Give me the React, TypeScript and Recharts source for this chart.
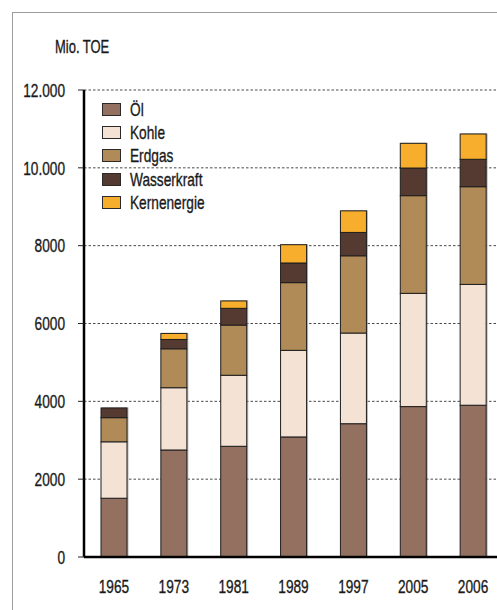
import React from "react";
import {
  BarChart,
  Bar,
  XAxis,
  YAxis,
  CartesianGrid,
  Legend,
} from "recharts";

// Liberation Sans squeezed horizontally to get a condensed face
const FONT = "'Liberation Sans', Arial, sans-serif";
const SQUEEZE = 0.72;
const FONT_SIZE = 19;

// Weltenergieverbrauch in Mio. TOE
const years = ["1965", "1973", "1981", "1989", "1997", "2005", "2006"];
const oel = [1510, 2750, 2845, 3085, 3425, 3865, 3900];
const kohle = [1450, 1600, 1825, 2225, 2330, 2910, 3105];
const erdgas = [620, 1000, 1290, 1740, 1985, 2510, 2510];
const wasserkraft = [250, 240, 430, 505, 600, 710, 705];
const kernenergie = [0, 155, 190, 470, 555, 635, 650];

const yTicks = [0, 2000, 4000, 6000, 8000, 10000, 12000];
const yTickLabels = ["0", "2000", "4000", "6000", "8000", "10.000", "12.000"];

const series = [
  { key: "oel", name: "Öl", values: oel, color: "#947060" },
  { key: "kohle", name: "Kohle", values: kohle, color: "#f4e2d5" },
  { key: "erdgas", name: "Erdgas", values: erdgas, color: "#b18b57" },
  { key: "wasserkraft", name: "Wasserkraft", values: wasserkraft, color: "#553a31" },
  { key: "kernenergie", name: "Kernenergie", values: kernenergie, color: "#f7ae2c" },
];

const data = years.map((year, i) => {
  const row: Record<string, string | number> = { year };
  series.forEach((s) => {
    row[s.key] = s.values[i];
  });
  return row;
});

// segment with a soft grey shadow on its right edge
const ShadowRect = (props: any) => {
  const { x, y, width, height, fill } = props;
  if (!height || height <= 0) return null;
  return (
    <g>
      <rect x={x + 1.5} y={y - 0.5} width={width} height={height} fill="#7a7a7a" opacity={0.55} />
      <rect x={x} y={y} width={width} height={height} fill={fill} stroke="#1e1e1e" strokeWidth={1} />
    </g>
  );
};

const tickText = {
  fontSize: FONT_SIZE,
  fontFamily: FONT,
  fill: "#1a1a1a",
  stroke: "#1a1a1a",
  strokeWidth: 0.35,
};

const YTick = (props: any) => {
  const { x, y, payload } = props;
  return (
    <text
      transform={`translate(${x},${y}) scale(${SQUEEZE},1)`}
      textAnchor="end"
      dy="0.355em"
      {...tickText}
    >
      {yTickLabels[yTicks.indexOf(payload.value)]}
    </text>
  );
};

const XTick = (props: any) => {
  const { x, y, payload } = props;
  return (
    <text
      transform={`translate(${x},${y}) scale(${SQUEEZE},1)`}
      textAnchor="middle"
      dy="0.71em"
      {...tickText}
    >
      {payload.value}
    </text>
  );
};

const squeezed: React.CSSProperties = {
  display: "inline-block",
  transform: `scaleX(${SQUEEZE})`,
  transformOrigin: "left center",
  lineHeight: 1,
  whiteSpace: "nowrap",
  WebkitTextStroke: "0.35px #1a1a1a",
};

const renderLegend = () => (
  <div style={{ fontFamily: FONT, fontSize: FONT_SIZE, color: "#1a1a1a" }}>
    {series.map((s) => (
      <div key={s.key} style={{ display: "flex", alignItems: "center", height: 23.3 }}>
        <span
          style={{
            display: "inline-block",
            width: 17,
            height: 11,
            background: s.color,
            border: "1px solid #2a2a2a",
            marginRight: 9,
          }}
        />
        <span style={squeezed}>{s.name}</span>
      </div>
    ))}
  </div>
);

export default function App() {
  return (
    <div
      style={{
        position: "fixed",
        left: 0,
        top: 0,
        width: 497,
        height: 610,
        overflow: "hidden",
        background: "#fff",
      }}
    >
      <div
        style={{
          position: "absolute",
          left: 12,
          top: 12,
          width: 700,
          height: 800,
          border: "1px solid #9c9c9c",
        }}
      />
      <div
        style={{
          position: "absolute",
          left: 55,
          top: 38,
          fontFamily: FONT,
          fontSize: 18,
          color: "#1a1a1a",
          ...squeezed,
        }}
      >
        Mio. TOE
      </div>
      <div style={{ position: "absolute", left: 0, top: 0 }}>
        <BarChart
          width={510}
          height={610}
          data={data}
          margin={{ top: 90, right: 7, bottom: 13, left: 0 }}
          barSize={26}
        >
          <CartesianGrid
            vertical={false}
            stroke="#4a4a4a"
            strokeDasharray="2.5 2"
          />
          <XAxis
            dataKey="year"
            height={40}
            tickSize={0}
            tickMargin={22}
            axisLine={{ stroke: "#000", strokeWidth: 2.5 }}
            tick={<XTick />}
          />
          <YAxis
            width={84}
            domain={[0, 12000]}
            ticks={yTicks}
            interval={0}
            tickSize={6}
            tickMargin={13}
            axisLine={{ stroke: "#000", strokeWidth: 2.5 }}
            tickLine={{ stroke: "#222" }}
            tick={<YTick />}
          />
          <Legend
            layout="vertical"
            align="center"
            verticalAlign="middle"
            content={renderLegend}
            wrapperStyle={{ left: 102, top: 97.5, width: 160 }}
          />
          {series.map((s) => (
            <Bar
              key={s.key}
              dataKey={s.key}
              name={s.name}
              stackId="energie"
              fill={s.color}
              shape={ShadowRect}
              isAnimationActive={false}
            />
          ))}
        </BarChart>
      </div>
    </div>
  );
}
